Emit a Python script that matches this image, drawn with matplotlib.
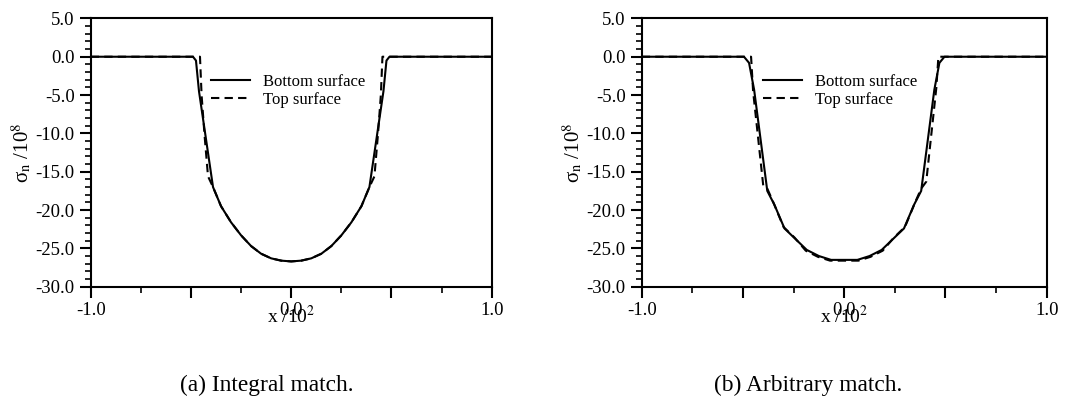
import matplotlib
matplotlib.use('Agg')
from matplotlib import pyplot as plt
from matplotlib.ticker import MultipleLocator, FixedLocator, FixedFormatter

plt.rcParams['font.family'] = ['Liberation Serif', 'DejaVu Serif']
plt.rcParams['mathtext.fontset'] = 'stix'
plt.rcParams['axes.unicode_minus'] = False

# (a) Integral match
x_int_bot = [-1.0, -0.49, -0.475, -0.46, -0.39, -0.35, -0.30, -0.25, -0.20, -0.15, -0.10, -0.05, 0.0,
             0.05, 0.10, 0.15, 0.20, 0.25, 0.30, 0.35, 0.39, 0.46, 0.475, 0.49, 1.0]
y_int_bot = [0.0, 0.0, -0.5, -4.5, -17.0, -19.5, -21.6, -23.3, -24.7, -25.7, -26.3, -26.6, -26.7,
             -26.6, -26.3, -25.7, -24.7, -23.3, -21.6, -19.5, -17.0, -4.5, -0.5, 0.0, 0.0]
x_int_top = [-1.0, -0.455, -0.447, -0.433, -0.415, -0.39, -0.35, -0.30, -0.25, -0.20, -0.15, -0.10, -0.05, 0.0,
             0.05, 0.10, 0.15, 0.20, 0.25, 0.30, 0.35, 0.39, 0.415, 0.433, 0.447, 0.455, 1.0]
y_int_top = [0.0, 0.0, -5.0, -10.0, -15.6, -17.0, -19.5, -21.6, -23.3, -24.7, -25.7, -26.3, -26.6, -26.7,
             -26.6, -26.3, -25.7, -24.7, -23.3, -21.6, -19.5, -17.0, -15.6, -10.0, -5.0, 0.0, 0.0]

# (b) Arbitrary match
x_arb_bot = [-1.0, -0.495, -0.47, -0.445, -0.38, -0.345, -0.295, -0.24, -0.185, -0.125, -0.065,
             0.065, 0.125, 0.185, 0.24, 0.295, 0.345, 0.38, 0.445, 0.47, 0.495, 1.0]
y_arb_bot = [0.0, 0.0, -0.8, -4.3, -17.5, -19.3, -22.4, -23.8, -25.2, -26.0, -26.5,
             -26.5, -26.0, -25.2, -23.8, -22.4, -19.3, -17.5, -4.3, -0.8, 0.0, 0.0]
x_arb_top = [-1.0, -0.46, -0.45, -0.40, -0.38, -0.35, -0.30, -0.245, -0.19, -0.13, -0.07,
             0.07, 0.13, 0.19, 0.245, 0.30, 0.35, 0.38, 0.405, 0.455, 0.465, 1.0]
y_arb_top = [0.0, 0.0, -4.5, -16.8, -17.2, -19.0, -22.2, -23.6, -25.3, -26.1, -26.6,
             -26.6, -26.1, -25.3, -23.6, -22.2, -19.0, -17.2, -16.3, -4.0, 0.0, 0.0]

x_ticks = [-1.0, -0.5, 0.0, 0.5, 1.0]
x_tick_labels = ['-1.0', '', '0.0', '', '1.0']

fig = plt.figure(figsize=(10.76, 4.09), dpi=100)
ax1 = fig.add_axes([0.0843, 0.299, 0.3727, 0.656])
ax2 = fig.add_axes([0.5964, 0.299, 0.3764, 0.656])

panels = [(ax1, x_int_bot, y_int_bot, x_int_top, y_int_top, '(a) Integral match.', 0.248),
          (ax2, x_arb_bot, y_arb_bot, x_arb_top, y_arb_top, '(b) Arbitrary match.', 0.751)]

for ax, xb, yb, xt, yt, cap, cx in panels:
    ax.plot(xb, yb, color='black', lw=1.5, label='Bottom surface')
    ax.plot(xt, yt, color='black', lw=1.5, linestyle=(0, (4, 2.5)), label='Top surface')
    ax.set_xlim(-1, 1)
    ax.set_ylim(-30, 5)
    ax.xaxis.set_major_locator(FixedLocator(x_ticks))
    ax.xaxis.set_major_formatter(FixedFormatter(x_tick_labels))
    ax.xaxis.set_minor_locator(MultipleLocator(0.25))
    ax.yaxis.set_major_locator(MultipleLocator(5))
    ax.yaxis.set_minor_locator(MultipleLocator(1))
    ax.yaxis.set_major_formatter('{x:.1f}')
    ax.tick_params(which='major', direction='out', length=8, width=1.5, labelsize=13.5)
    ax.tick_params(which='minor', direction='out', length=4.5, width=1.2)
    ax.tick_params(axis='x', pad=3)
    for s in ax.spines.values():
        s.set_linewidth(1.5)
    ax.set_xlabel(r'x /10$^2$', fontsize=14, labelpad=-10)
    ax.set_ylabel(r'σ$_{\mathrm{n}}$ /10$^8$', fontsize=15, labelpad=1)
    ax.legend(loc='upper left', bbox_to_anchor=(0.28, 0.825), frameon=False, fontsize=12,
              handlelength=2.3, handletextpad=0.8, labelspacing=0.15, borderpad=0)
    fig.text(cx, 0.058, cap, ha='center', va='center', fontsize=16.8)

fig.savefig('out.png', dpi=100)
